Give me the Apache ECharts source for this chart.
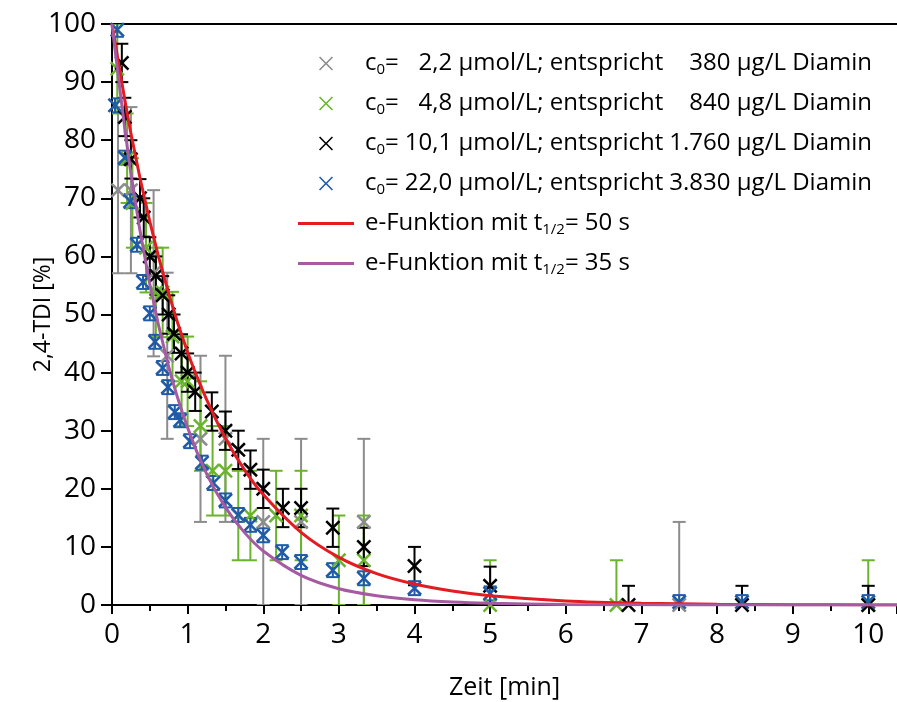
<!DOCTYPE html>
<html><head><meta charset="utf-8">
<script src="https://cdn.jsdelivr.net/npm/echarts@6/dist/echarts.min.js"></script>
<style>html,body{margin:0;padding:0;background:#fff}#c{width:897px;height:702px}</style>
</head><body><div id="c"></div>
<script>
// ---- data ----
const concentrations = ['2,2', '4,8', '10,1', '22,0'];
const amounts = ['380', '840', '1.760', '3.830'];
const halfLives = ['50', '35'];

const grayT = [0.08, 0.25, 0.55, 0.73, 1.17, 1.5, 2.0, 2.5, 3.33, 7.5];
const grayV = [71.4, 71.4, 57.1, 42.9, 28.6, 28.6, 14.3, 14.3, 14.3, 0];
const grayE = [14.3, 14.3, 14.3, 14.3, 14.3, 14.3, 14.3, 14.3, 14.3, 14.3];

const greenT = [0.07, 0.2, 0.27, 0.45, 0.58, 0.67, 0.8, 0.92, 1.0, 1.17, 1.33, 1.5, 1.67, 1.83, 2.17, 2.5, 3.0, 3.33, 5.0, 6.67, 10.0];
const greenV = [92.3, 76.9, 69.2, 61.5, 53.8, 53.8, 46.2, 38.5, 38.5, 30.8, 23.1, 23.1, 15.4, 15.4, 15.4, 15.4, 7.7, 7.7, 0, 0, 0];
const greenE = [7.7, 7.7, 7.7, 7.7, 7.7, 7.7, 7.7, 7.7, 7.7, 7.7, 7.7, 7.7, 7.7, 7.7, 7.7, 7.7, 7.7, 7.7, 7.7, 7.7, 7.7];

const blackT = [0.13, 0.17, 0.25, 0.37, 0.42, 0.5, 0.58, 0.67, 0.75, 0.82, 0.92, 1.0, 1.1, 1.32, 1.5, 1.67, 1.83, 2.0, 2.26, 2.5, 2.92, 3.33, 4.0, 5.0, 6.83, 8.33, 10.0];
const blackV = [93.3, 84, 76.7, 70, 66.7, 60, 56.7, 53.3, 50, 46.7, 43.3, 40, 36.7, 33.3, 30, 26.7, 23.3, 20, 16.7, 16.7, 13.3, 10, 6.7, 3.3, 0, 0, 0];
const blackE = [3.3, 3.3, 3.3, 3.3, 3.3, 3.3, 3.3, 3.3, 3.3, 3.3, 3.3, 3.3, 3.3, 3.3, 3.3, 3.3, 3.3, 3.3, 3.3, 3.3, 3.3, 3.3, 3.3, 3.3, 3.3, 3.3, 3.3];

const blueT = [0.07, 0.04, 0.17, 0.24, 0.33, 0.41, 0.5, 0.57, 0.67, 0.74, 0.83, 0.9, 1.03, 1.19, 1.34, 1.5, 1.67, 1.83, 2.0, 2.25, 2.5, 2.92, 3.33, 4.0, 5.0, 7.5, 8.33, 10.0];
const blueV = [99, 86, 77, 69.5, 62, 55.6, 50.2, 45.3, 40.8, 37.5, 33.2, 31.8, 28.2, 24.5, 21, 18, 15.5, 13.8, 12, 9.1, 7.4, 6, 4.6, 2.9, 2, 0.5, 0.5, 0.5];
const blueE = [1.2, 1.2, 1.2, 1.2, 1.2, 1.2, 1.2, 1.2, 1.2, 1.2, 1.2, 1.2, 1.2, 1.2, 1.2, 1.2, 1.2, 1.2, 1.2, 1.2, 1.2, 1.2, 1.2, 1.2, 1.2, 1.2, 1.2, 1.2];

const curveT = [0, 0.25, 0.5, 0.75, 1, 1.25, 1.5, 1.75, 2, 2.5, 3, 3.5, 4, 4.5, 5, 6, 7, 8, 9, 10, 10.38];
const red50V = [100, 81.2, 66, 53.6, 43.5, 35.4, 28.7, 23.3, 19, 12.5, 8.2, 5.4, 3.6, 2.4, 1.6, 0.7, 0.3, 0.13, 0.05, 0.02, 0.01];
const purple35V = [100, 74.3, 55.2, 41, 30.5, 22.6, 16.8, 12.5, 9.3, 5.1, 2.8, 1.6, 0.9, 0.5, 0.3, 0.1, 0.03, 0.01, 0, 0, 0];

const xTicks = ['0','1','2','3','4','5','6','7','8','9','10'];

// ---- chart ----
const FONT = 'Open Sans';
const colors = ['#8c8c8c', '#6ab42d', '#000000', '#1f5ba6'];
const lineColors = ['#e31b23', '#a65aa2'];
const XPATH = 'path://M0,1.2L1.2,0L5,3.8L8.8,0L10,1.2L6.2,5L10,8.8L8.8,10L5,6.2L1.2,10L0,8.8L3.8,5Z';
const XPATH_THIN = 'path://M0,0.8L0.8,0L5,4.2L9.2,0L10,0.8L5.8,5L10,9.2L9.2,10L5,5.8L0.8,10L0,9.2L4.2,5Z';
const LINEPATH = 'path://M0,0H56V3H0Z';

const sets = [
  [grayT, grayV, grayE], [greenT, greenV, greenE], [blackT, blackV, blackE], [blueT, blueV, blueE]
];
const names = concentrations.map((c, i) => 'c0= ' + c + ' µmol/L; entspricht ' + amounts[i] + ' µg/L Diamin');
const lineNames = halfLives.map(h => 'e-Funktion mit t1/2= ' + h + ' s');

function zip(a, b, c) { return a.map((v, i) => c ? [v, b[i], c[i]] : [v, b[i]]); }

const series = [];
sets.forEach((s, i) => {
  series.push({
    type: 'custom', name: 'err' + i, z: 2, clip: true,
    data: zip(s[0], s[1], s[2]),
    renderItem: function (params, api) {
      const x = api.value(0), y = api.value(1), e = api.value(2);
      const top = api.coord([x, y + e]);
      const bot = api.coord([x, y - e]);
      const hw = 6.5;
      const st = { stroke: colors[i], lineWidth: 2, fill: null };
      return { type: 'group', children: [
        { type: 'line', shape: { x1: top[0], y1: top[1], x2: bot[0], y2: bot[1] }, style: st },
        { type: 'line', shape: { x1: top[0] - hw, y1: top[1], x2: top[0] + hw, y2: top[1] }, style: st },
        { type: 'line', shape: { x1: bot[0] - hw, y1: bot[1], x2: bot[0] + hw, y2: bot[1] }, style: st }
      ]};
    }
  });
  series.push({
    type: 'scatter', name: names[i], z: 3, symbol: XPATH, symbolSize: 15,
    itemStyle: { color: colors[i], opacity: 1 },
    data: zip(s[0], s[1])
  });
});
[red50V, purple35V].forEach((v, i) => {
  series.push({
    type: 'line', name: lineNames[i], z: 5, smooth: 0.3, showSymbol: false, symbol: 'none',
    lineStyle: { color: lineColors[i], width: 3 }, itemStyle: { color: lineColors[i] },
    data: zip(curveT, v)
  });
});

// legend text layout (right-aligned number columns via measured padding)
const FS = 24;
const ctx = document.createElement('canvas').getContext('2d');
ctx.font = FS + 'px "' + FONT + '"';
const mw = t => ctx.measureText(t).width;
const nMax = Math.max.apply(null, concentrations.map(mw));
const mMax = Math.max.apply(null, amounts.map(mw));
const base = { fontSize: FS, fontFamily: FONT, color: '#000', lineHeight: 26 };
const rich = {
  t: Object.assign({}, base),
  s: Object.assign({}, base, { fontSize: 15, padding: [12, 0, 0, 0] })
};
concentrations.forEach((c, i) => {
  rich['n' + i] = Object.assign({}, base, { padding: [0, 0, 0, 6 + nMax - mw(c)] });
  rich['m' + i] = Object.assign({}, base, { padding: [0, 0, 0, 6 + mMax - mw(amounts[i])] });
});

function legendFmt(name) {
  const i = names.indexOf(name);
  if (i >= 0) {
    return '{t|c}{s|0}{t|=}{n' + i + '|' + concentrations[i] + ' µmol/L; entspricht}{m' + i + '|' + amounts[i] + ' µg/L Diamin}';
  }
  const j = lineNames.indexOf(name);
  return '{t|e-Funktion mit t}{s|1/2}{t|= ' + halfLives[j] + ' s}';
}

const legendData = names.map((n, i) => ({ name: n, icon: XPATH_THIN, itemStyle: { color: colors[i] } }))
  .concat(lineNames.map((n, i) => ({ name: n, icon: LINEPATH, itemStyle: { color: lineColors[i], borderWidth: 0 } })));

const option = {
  animation: false,
  backgroundColor: '#fff',
  textStyle: { fontFamily: FONT },
  grid: { left: 112, right: 0, top: 24, bottom: 97, containLabel: false, outerBoundsMode: 'none' },
  legend: {
    orient: 'vertical', left: 293, top: 45, itemWidth: 56, itemHeight: 14, itemGap: 13,
    symbolKeepAspect: true,
    data: legendData,
    formatter: legendFmt,
    textStyle: { rich: rich, fontSize: FS, fontFamily: FONT, padding: [0, 0, 0, 6] },
    selectedMode: false
  },
  xAxis: [{
    type: 'value', min: 0, max: 10.38, interval: 1,
    name: 'Zeit [min]', nameLocation: 'middle', nameGap: 70,
    nameTextStyle: { fontSize: 25, color: '#000', fontFamily: FONT },
    axisLine: { show: true, lineStyle: { color: '#000', width: 2 } },
    axisTick: { show: true, length: 9, lineStyle: { color: '#000', width: 2 } },
    minorTick: { show: true, splitNumber: 2, length: 6, lineStyle: { color: '#000', width: 2 } },
    axisLabel: { fontSize: 28, color: '#000', margin: 16, showMaxLabel: false, fontFamily: FONT,
      formatter: v => xTicks[Math.round(v)] },
    splitLine: { show: false }
  }, {
    type: 'value', position: 'top', min: 0, max: 10.38,
    axisLine: { show: true, onZero: false, lineStyle: { color: '#000', width: 2 } },
    axisTick: { show: false }, axisLabel: { show: false }, splitLine: { show: false }
  }],
  yAxis: {
    type: 'value', min: 0, max: 100, interval: 10,
    name: '2,4-TDI [%]', nameLocation: 'middle', nameGap: 57, nameMoveOverlap: false,
    nameTextStyle: { fontSize: 23, color: '#000', fontFamily: FONT },
    axisLine: { show: true, lineStyle: { color: '#000', width: 2 } },
    axisTick: { show: true, length: 11, lineStyle: { color: '#000', width: 2 } },
    axisLabel: { fontSize: 28, color: '#000', margin: 16, fontFamily: FONT },
    splitLine: { show: false }
  },
  series: series
};

const chart = echarts.init(document.getElementById('c'), null, { renderer: 'canvas' });
chart.setOption(option);
</script>
</body></html>
